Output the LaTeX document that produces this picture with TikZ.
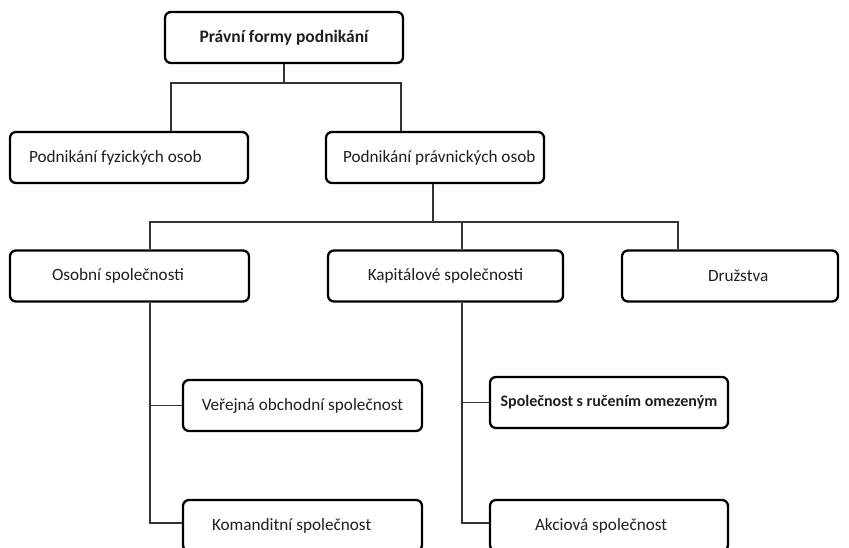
\documentclass[tikz,border=0pt]{standalone}
\usepackage{fontspec}
\setmainfont{Carlito}
\begin{document}
\begin{tikzpicture}[x=1pt,y=-1pt,
  box/.style={draw=black, line width=2.3pt, rounded corners=6pt, fill=white,
    minimum height=51pt, inner ysep=0pt, text=black!88, font=\fontsize{17.2}{20}\selectfont},
  conn/.style={draw=black!80, line width=1.3pt}]
\clip (0,0) rectangle (849,547);
\fill[white] (0,0) rectangle (849,547);
% row 1
\node[box, minimum width=238pt, font=\fontsize{17.5}{20}\selectfont\bfseries] (top) at (284,37.5) {Právní formy podnikání};
% row 2
\node[box, inner xsep=19pt] (fyz) at (129,157.5) {\makebox[200pt][l]{Podnikání fyzických osob}};
\node[box, inner xsep=17pt] (prav) at (435,157.5) {\makebox[184pt][l]{Podnikání právnických osob}};
% row 3
\node[box, inner xsep=42pt] (osob) at (129.5,276) {\makebox[155pt][l]{Osobní společnosti}};
\node[box, minimum width=235pt] (kap) at (445.5,276) {Kapitálové společnosti};
\node[box, inner xsep=86pt] (druz) at (730,276) {\makebox[44pt][l]{Družstva}};
% row 4
\node[box, minimum width=239pt] (ver) at (302.5,405.5) {Veřejná obchodní společnost};
\node[box, minimum width=238pt, font=\fontsize{16}{19}\selectfont\bfseries] (sro) at (609,402.5) {Společnost s ručením omezeným};
\node[box, inner xsep=29pt] (kom) at (302.5,525.5) {\makebox[181pt][l]{Komanditní společnost}};
\node[box, inner xsep=45pt] (akc) at (609,525.5) {\makebox[148pt][l]{Akciová společnost}};
% connectors
\coordinate (j1) at (284,83);
\draw[conn] (top.south) -- (j1);
\draw[conn] (fyz.north -| 171,0) |- (j1) -| (prav.north -| 401,0);
\coordinate (j2) at (433,222);
\draw[conn] (prav.south -| j2) -- (j2);
\draw[conn] (osob.north -| 150,0) |- (j2) -| (druz.north -| 678,0);
\coordinate (k0) at (462,222);
\draw[conn] (kap.north -| k0) -- (k0);
\coordinate (o1) at (150,523);
\draw[conn] (osob.south -| o1) -- (o1) -- (kom.west |- o1);
\draw[conn] (o1 |- ver.west) -- (ver.west);
\coordinate (k1) at (462,523);
\draw[conn] (kap.south -| k1) -- (k1) -- (akc.west |- k1);
\draw[conn] (k1 |- sro.west) -- (sro.west);
\end{tikzpicture}
\end{document}
